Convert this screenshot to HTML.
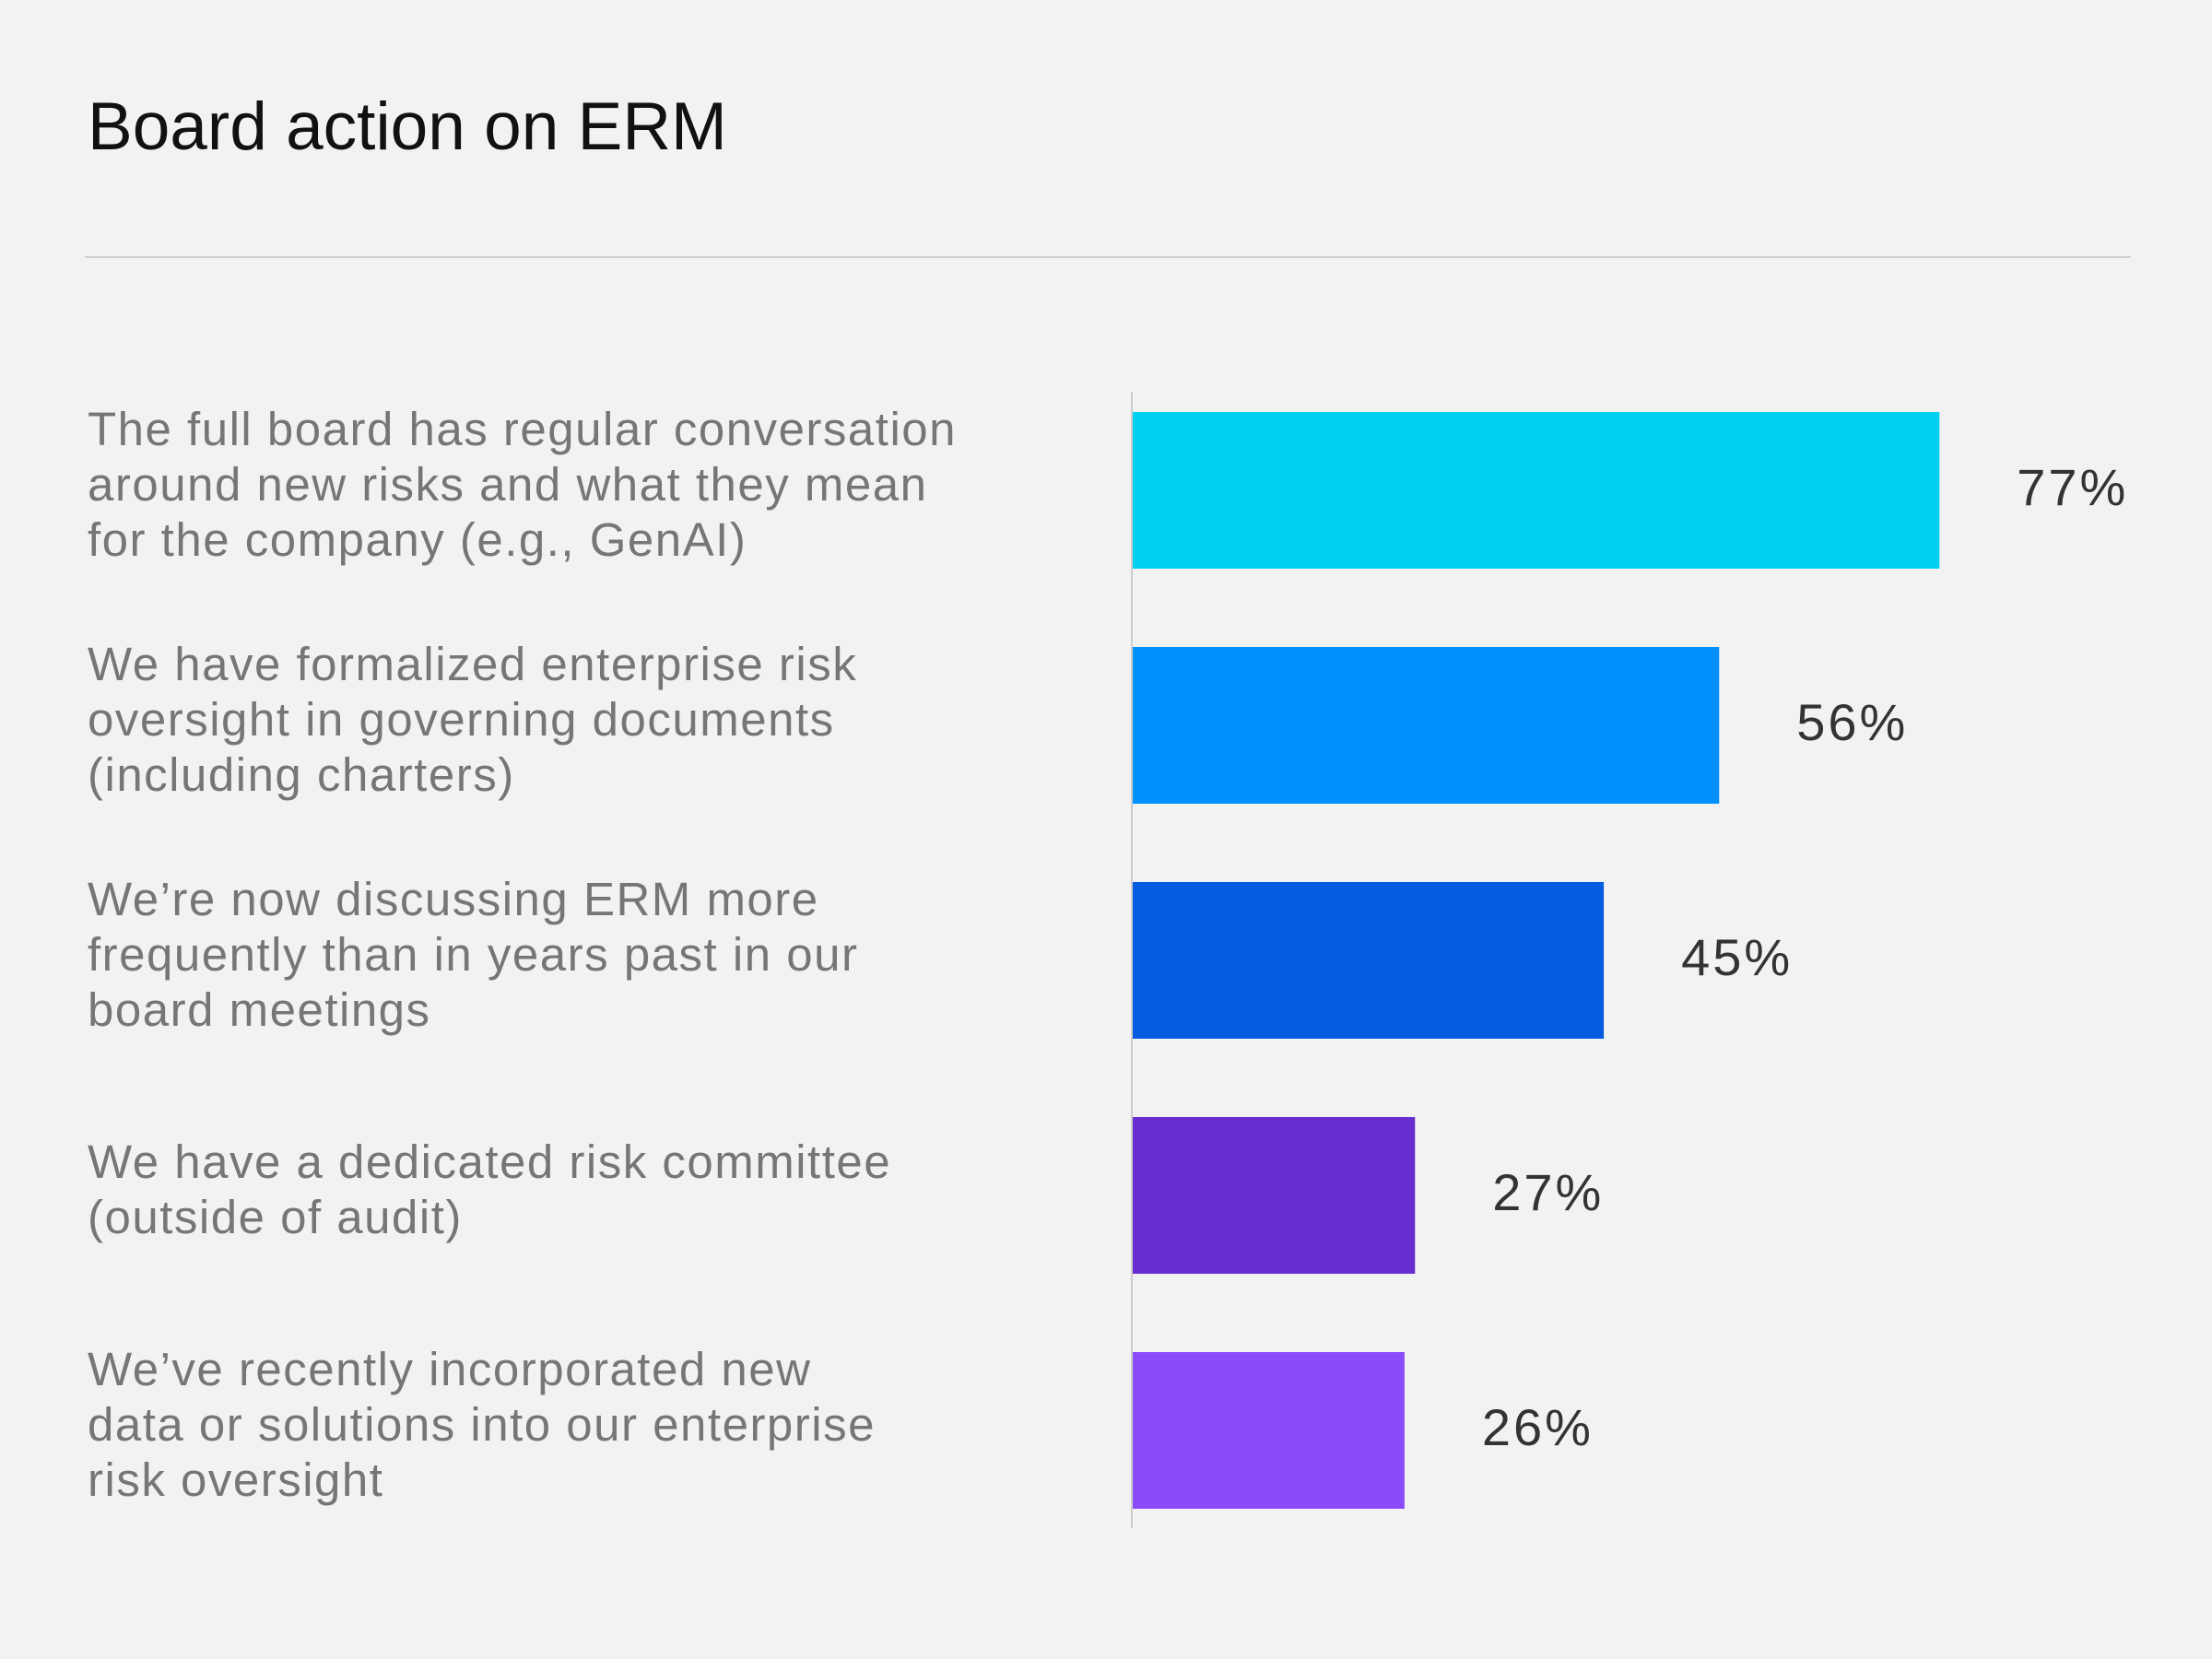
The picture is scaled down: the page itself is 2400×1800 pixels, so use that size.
<!DOCTYPE html>
<html><head><meta charset="utf-8"><style>
body{margin:0;background:#f2f2f2;width:2400px;height:1800px;overflow:hidden;font-family:"Liberation Sans",sans-serif}
#t{position:absolute;left:95px;top:96px;font-size:73px;color:#111;letter-spacing:0px}
#rule{position:absolute;left:92px;top:278px;width:2220px;height:2px;background:#cfcfcf}
</style></head><body>
<div id="t">Board action on ERM</div>
<div id="rule"></div>
<svg id="c" width="2400" height="1800" style="position:absolute;left:0;top:0"></svg>
<script>
const categories=[
["The full board has regular conversation","around new risks and what they mean","for the company (e.g., GenAI)"],
["We have formalized enterprise risk","oversight in governing documents","(including charters)"],
["We’re now discussing ERM more","frequently than in years past in our","board meetings"],
["We have a dedicated risk committee","(outside of audit)"],
["We’ve recently incorporated new","data or solutions into our enterprise","risk oversight"]];
const values=[77,56,45,27,26];
const valueLabels=["77%","56%","45%","27%","26%"];
const colors=["#00D1F0","#0091FF","#055CE0","#662ECF","#8A4BFA"];
const NS="http://www.w3.org/2000/svg",svg=document.getElementById('c');
const x0=1228,scale=11.38,top0=447,pitch=255,bh=170;
const xs=v=>x0+v*scale, ys=i=>top0+i*pitch;
function mk(t,a){const e=document.createElementNS(NS,t);for(const k in a)e.setAttribute(k,a[k]);svg.appendChild(e);return e;}
values.forEach((v,i)=>{
 const r=mk('rect',{x:x0,y:ys(i),width:xs(v)-x0,height:bh,fill:colors[i]});
 
 
 const t=mk('text',{x:xs(v)+84,y:ys(i)+bh/2+16,'font-size':56,'letter-spacing':3,fill:'#333'});
 t.textContent=valueLabels[i];
 
 
 const lines=categories[i],lh=60,cy=ys(i)+bh/2;
 lines.forEach((l,j)=>{
  const tt=mk('text',{x:95,y:cy+(j-(lines.length-1)/2)*lh+11,'font-size':51,'letter-spacing':1.5,fill:'#767676'});
  tt.textContent=l;
  
  
 });
});
const ax=mk('line',{x1:x0,x2:x0,y1:425,y2:1658,stroke:'#cccccc','stroke-width':2});


</script>
</body></html>
